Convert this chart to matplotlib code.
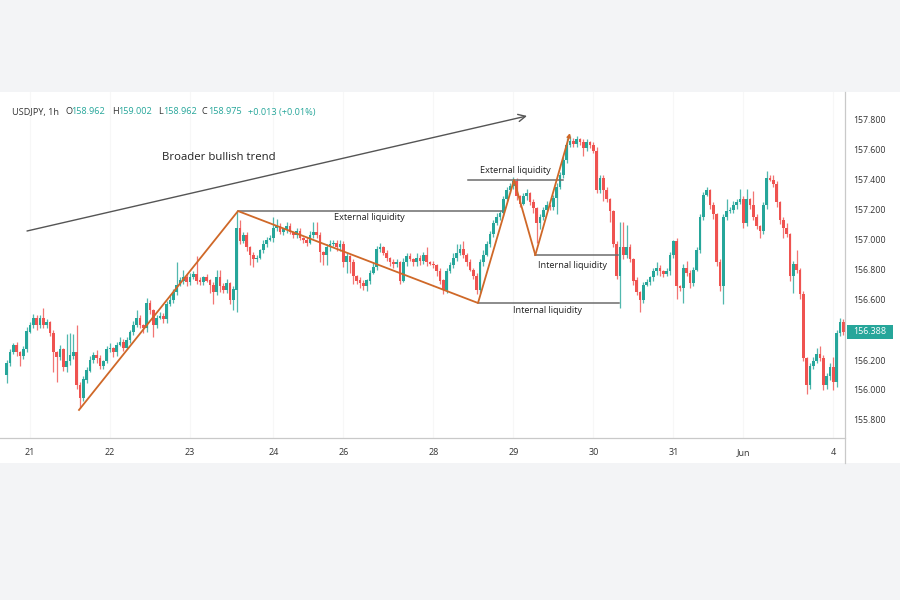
import numpy as np
import matplotlib
matplotlib.use("Agg")
import matplotlib.pyplot as plt
from matplotlib.lines import Line2D
from matplotlib.patches import Rectangle

# USDJPY 1h: close of every bar (open = previous close)
first_open = 156.10
closes = [
    156.18, 156.25, 156.30, 156.25, 156.23, 156.27, 156.39, 156.43, 156.48, 156.43, 156.48, 156.43,
    156.45, 156.38, 156.25, 156.22, 156.27, 156.15, 156.19, 156.23, 156.25, 156.03, 155.95, 156.07,
    156.13, 156.20, 156.23, 156.21, 156.16, 156.19, 156.27, 156.28, 156.25, 156.30, 156.32, 156.28,
    156.33, 156.39, 156.43, 156.48, 156.43, 156.41, 156.58, 156.53, 156.43, 156.48, 156.49, 156.47,
    156.57, 156.60, 156.65, 156.70, 156.73, 156.75, 156.72, 156.75, 156.77, 156.73, 156.72, 156.75,
    156.73, 156.70, 156.65, 156.75, 156.69, 156.67, 156.71, 156.60, 156.67, 157.08, 156.99, 157.03,
    156.95, 156.90, 156.87, 156.88, 156.93, 156.97, 157.00, 157.01, 157.08, 157.09, 157.05, 157.07,
    157.09, 157.05, 157.03, 157.06, 157.01, 157.00, 156.98, 157.03, 157.05, 157.03, 156.92, 156.90,
    156.95, 156.97, 156.98, 156.95, 156.97, 156.85, 156.89, 156.85, 156.76, 156.73, 156.71, 156.69,
    156.73, 156.78, 156.82, 156.94, 156.95, 156.91, 156.88, 156.85, 156.84, 156.85, 156.73, 156.85,
    156.89, 156.87, 156.85, 156.88, 156.86, 156.90, 156.85, 156.84, 156.83, 156.79, 156.73, 156.67,
    156.79, 156.83, 156.88, 156.91, 156.94, 156.90, 156.85, 156.80, 156.76, 156.67, 156.85, 156.90,
    156.97, 157.04, 157.11, 157.15, 157.18, 157.27, 157.33, 157.36, 157.39, 157.29, 157.24, 157.29,
    157.31, 157.25, 157.21, 157.11, 157.15, 157.20, 157.23, 157.22, 157.28, 157.35, 157.43, 157.53,
    157.63, 157.66, 157.64, 157.67, 157.65, 157.61, 157.65, 157.63, 157.59, 157.33, 157.41, 157.33,
    157.27, 157.19, 156.97, 156.76, 156.95, 156.90, 156.95, 156.87, 156.73, 156.65, 156.60, 156.70,
    156.72, 156.75, 156.79, 156.81, 156.79, 156.77, 156.79, 156.90, 156.99, 156.69, 156.68, 156.81,
    156.78, 156.71, 156.80, 156.93, 157.15, 157.30, 157.33, 157.23, 157.17, 156.85, 156.69, 157.15,
    157.19, 157.20, 157.23, 157.25, 157.27, 157.11, 157.27, 157.23, 157.15, 157.09, 157.06, 157.23,
    157.41, 157.40, 157.37, 157.25, 157.13, 157.08, 157.04, 156.76, 156.84, 156.80, 156.64, 156.21,
    156.03, 156.16, 156.19, 156.24, 156.21, 156.03, 156.09, 156.15, 156.05, 156.38, 156.45, 156.388,
]

# wick lengths above / below the body, in 0.01 JPY
upper_wick = [
    2, 2, 1, 2, 1, 2, 3, 2, 3, 2, 2, 7,
    2, 1, 2, 1, 3, 1, 18, 15, 12, 18, 2, 2,
    2, 3, 2, 4, 2, 1, 2, 3, 1, 2, 3, 2,
    2, 1, 3, 5, 2, 1, 3, 2, 1, 2, 3, 2,
    2, 3, 2, 15, 2, 5, 2, 3, 2, 12, 2, 1,
    2, 1, 2, 5, 5, 2, 3, 1, 2, 11, 5, 2,
    2, 1, 2, 2, 1, 3, 2, 2, 7, 5, 2, 1,
    3, 2, 1, 2, 2, 1, 2, 3, 7, 7, 2, 1,
    2, 3, 2, 2, 3, 2, 2, 1, 2, 1, 2, 2,
    1, 2, 3, 2, 3, 1, 2, 1, 2, 2, 1, 3,
    2, 2, 1, 3, 2, 2, 5, 1, 2, 1, 2, 1,
    2, 2, 3, 6, 3, 5, 1, 2, 1, 2, 2, 3,
    2, 2, 2, 3, 1, 2, 2, 2, 3, 2, 1, 2,
    3, 1, 2, 1, 2, 2, 3, 1, 2, 3, 2, 2,
    5, 3, 2, 2, 1, 2, 2, 1, 2, 3, 2, 2,
    2, 1, 1, 2, 17, 17, 15, 2, 1, 2, 1, 2,
    2, 1, 2, 4, 2, 1, 2, 2, 1, 2, 1, 3,
    5, 2, 2, 2, 2, 2, 2, 1, 2, 1, 2, 2,
    8, 2, 3, 2, 7, 2, 7, 1, 10, 2, 1, 2,
    5, 2, 3, 2, 1, 2, 3, 1, 2, 9, 1, 2,
    1, 2, 3, 4, 5, 2, 2, 3, 7, 2, 3, 2,
]
lower_wick = [
    5, 2, 1, 2, 7, 2, 2, 1, 2, 3, 2, 2,
    2, 2, 13, 17, 2, 2, 3, 2, 2, 2, 7, 2,
    2, 1, 2, 3, 2, 2, 1, 2, 3, 2, 1, 2,
    1, 2, 2, 1, 2, 3, 2, 2, 8, 2, 1, 2,
    2, 1, 2, 2, 1, 2, 3, 2, 1, 2, 2, 2,
    1, 5, 8, 2, 4, 2, 2, 3, 7, 15, 2, 1,
    2, 7, 5, 2, 1, 2, 2, 1, 2, 2, 1, 2,
    2, 1, 2, 2, 1, 2, 2, 1, 2, 2, 7, 7,
    7, 2, 1, 2, 2, 3, 7, 7, 5, 2, 3, 2,
    3, 2, 1, 2, 2, 1, 2, 2, 3, 2, 2, 1,
    2, 1, 2, 2, 3, 2, 2, 1, 2, 3, 2, 3,
    2, 1, 2, 2, 1, 2, 2, 1, 2, 3, 2, 2,
    1, 2, 2, 1, 2, 2, 1, 2, 2, 2, 2, 1,
    2, 2, 3, 13, 4, 2, 1, 2, 2, 11, 1, 2,
    2, 1, 2, 2, 2, 5, 2, 2, 1, 2, 2, 7,
    2, 7, 2, 2, 21, 3, 2, 2, 3, 2, 8, 2,
    1, 2, 2, 2, 3, 2, 1, 2, 2, 8, 2, 10,
    2, 3, 2, 1, 2, 2, 1, 2, 3, 2, 3, 12,
    2, 1, 2, 2, 1, 3, 2, 2, 2, 2, 5, 2,
    2, 1, 2, 3, 2, 7, 2, 3, 11, 2, 3, 2,
    6, 2, 2, 1, 2, 3, 2, 2, 5, 3, 2, 2,
]

# time axis (bar index of each day label) and price axis
day_pos = [7, 31, 55, 80, 101, 128, 152, 176, 200, 221, 248]
day_labels = ["21", "22", "23", "24", "26", "28", "29", "30", "31", "Jun", "4"]
price_ticks = [155.8, 156.0, 156.2, 156.6, 156.8, 157.0, 157.2, 157.4, 157.6, 157.8]
last_price = 156.388

# hand-drawn swing structure (bar index, price)
swing_x = [21.7, 69.4, 141.4, 152.2, 158.6, 169.0]
swing_y = [155.867, 157.193, 156.58, 157.40, 156.90, 157.713]

GREEN = "#26a69a"
RED = "#ef5350"
ORANGE = "#cf6828"
GREY = "#6c6c6c"

plt.rcParams["font.family"] = ["Open Sans", "DejaVu Sans"]


def px(x, y):
    """pixel (from top-left) -> figure fraction"""
    return x / 900, 1 - y / 600


def draw_candles(ax):
    c = np.array(closes)
    o = np.r_[first_open, c[:-1]]
    top = np.maximum(o, c)
    bot = np.minimum(o, c)
    hi = top + np.array(upper_wick) / 100
    lo = bot - np.array(lower_wick) / 100
    idx = np.arange(len(c))
    cols = np.where(c >= o, GREEN, RED)
    ax.vlines(idx, lo, hi, colors=cols, lw=0.9, alpha=0.8, zorder=2)
    ax.bar(idx, np.maximum(top - bot, 0.006), bottom=bot, width=0.72,
           color=cols, linewidth=0, zorder=3)


def draw_annotations(ax):
    # broader trend arrow
    ax.annotate("", xy=(156.1, 157.827), xytext=(6.1, 157.06),
                arrowprops=dict(arrowstyle="->", color="#555555", lw=1.0,
                                mutation_scale=13, shrinkA=0, shrinkB=0), zorder=5)
    ax.text(63.7, 157.553, "Broader bullish trend", fontsize=8.2, color="#222222",
            ha="center", va="center")

    # liquidity levels
    levels = [
        (swing_x[1], 148.6, swing_y[1], "External liquidity", 108.7, 157.147),
        (138.4, 167.0, swing_y[3], "External liquidity", 152.5, 157.46),
        (swing_x[4], 183.4, swing_y[4], "Internal liquidity", 169.9, 156.833),
        (swing_x[2], 183.7, swing_y[2], "Internal liquidity", 162.4, 156.527),
    ]
    for x0, x1, y, label, tx, ty in levels:
        ax.plot([x0, x1], [y, y], color=GREY, lw=1.1, zorder=4)
        ax.text(tx, ty, label, fontsize=6.6, color="#222222", ha="center", va="center")

    # orange swing legs
    ax.plot(swing_x[:-1], swing_y[:-1], color=ORANGE, lw=1.3, zorder=6)
    ax.annotate("", xy=(swing_x[-1], swing_y[-1]), xytext=(swing_x[-2], swing_y[-2]),
                arrowprops=dict(arrowstyle="->", color=ORANGE, lw=1.3,
                                mutation_scale=5, shrinkA=0, shrinkB=0), zorder=6)


def draw_chart():
    fig = plt.figure(figsize=(9, 6), dpi=100, facecolor="#f3f4f6")
    x0, y0 = px(0, 463)
    fig.patches.append(Rectangle((x0, y0), 1, 371 / 600, transform=fig.transFigure,
                                 facecolor="white", edgecolor="none", zorder=-5))

    l, b = px(5, 438)
    ax = fig.add_axes([l, b, 840 / 900, (438 - 92) / 600])
    ax.set_zorder(2)
    ax.set_facecolor("white")
    ax.set_xlim(-0.5, 251.5)
    ax.set_ylim(158.6 - 438 / 150, 158.6 - 92 / 150)
    for s in ax.spines.values():
        s.set_visible(False)

    for p in day_pos:
        ax.axvline(p, color="#f7f7f7", lw=0.8, zorder=1)

    draw_candles(ax)
    draw_annotations(ax)

    ax.set_xticks(day_pos, day_labels)
    ax.tick_params(axis="x", length=0, pad=7, labelsize=6.5, labelcolor="#333333")
    ax.yaxis.tick_right()
    ax.set_yticks(price_ticks, [f"{v:.3f}" for v in price_ticks])
    ax.tick_params(axis="y", length=0, pad=6, labelsize=6.3, labelcolor="#333333")

    # last price badge
    tr = ax.get_yaxis_transform()
    ax.add_patch(Rectangle((1.0024, last_price - 0.047), 0.0546, 0.094, transform=tr,
                           facecolor=GREEN, edgecolor="none", clip_on=False, zorder=7))
    ax.text(1.0297, last_price, f"{last_price:.3f}", transform=tr,
            ha="center", va="center", color="white", fontsize=6.4, zorder=8)

    # axis borders
    fig.add_artist(Line2D([0, 845 / 900], [1 - 438 / 600] * 2, color="#c9c9c9", lw=0.9, zorder=5))
    fig.add_artist(Line2D([845 / 900] * 2, [1 - 463 / 600, 1 - 92 / 600], color="#c9c9c9", lw=0.9, zorder=5))

    # header line
    header = [("USDJPY, 1h", "#333333", 12), ("O", "#333333", 65), ("158.962", GREEN, 71),
              ("H", "#333333", 112), ("159.002", GREEN, 118), ("L", "#333333", 158),
              ("158.962", GREEN, 163), ("C", "#333333", 202), ("158.975", GREEN, 208),
              ("+0.013 (+0.01%)", GREEN, 248)]
    for txt, col, xp in header:
        fx, fy = px(xp, 112)
        fig.text(fx, fy, txt, color=col, fontsize=6.6, ha="left", va="center", zorder=6)

    fig.savefig("out.png", dpi=100, facecolor=fig.get_facecolor())


if __name__ == "__main__":
    draw_chart()
